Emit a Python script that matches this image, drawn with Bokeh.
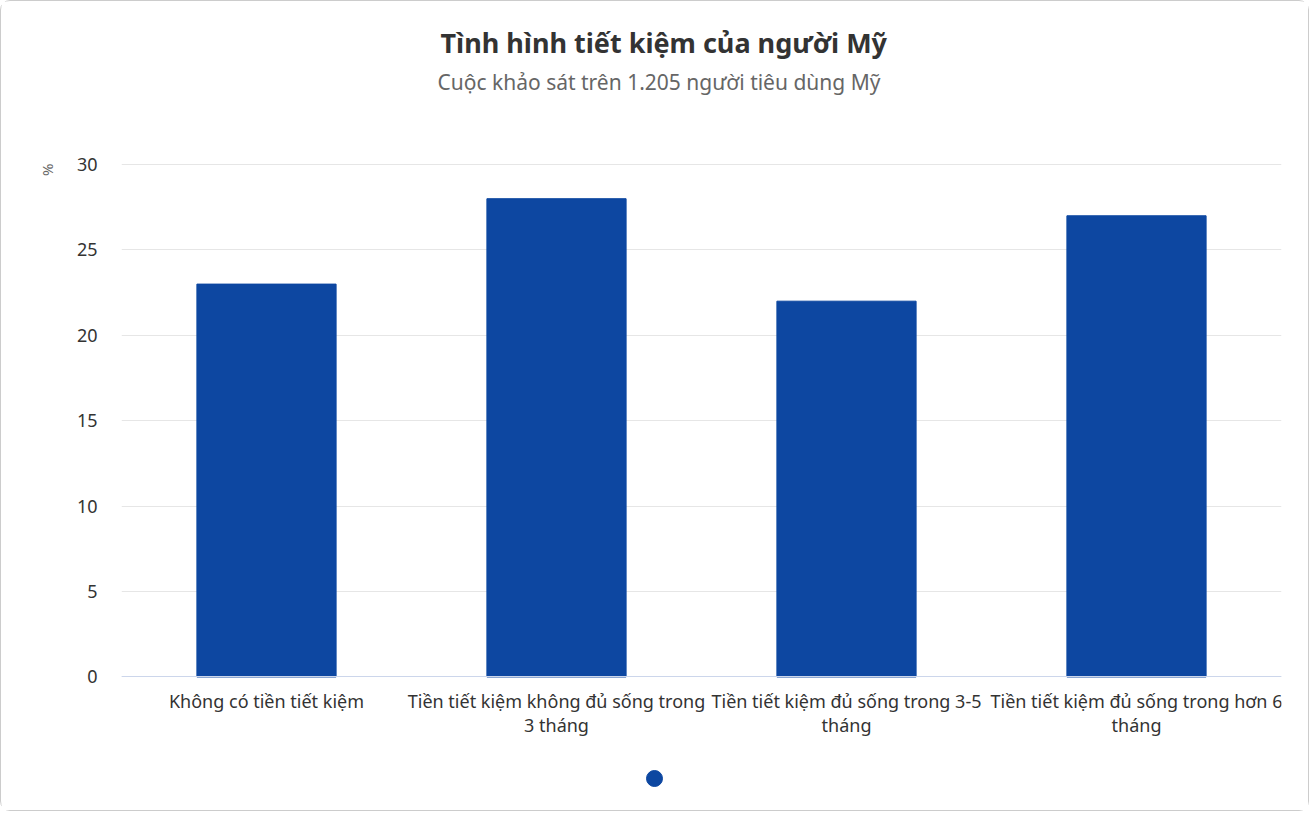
from bokeh.embed import file_html
from bokeh.resources import INLINE
from bokeh.plotting import figure
from bokeh.models import (ColumnDataSource, Range1d, FixedTicker, Title,
                          Legend, LegendItem)

categories = ["Không có tiền tiết kiệm",
              "Tiền tiết kiệm không đủ sống trong\n3 tháng",
              "Tiền tiết kiệm đủ sống trong 3-5\ntháng",
              "Tiền tiết kiệm đủ sống trong hơn 6\ntháng"]
values = [23, 28, 22, 27]
y_ticks = [0, 5, 10, 15, 20, 25, 30]
title = "Tình hình tiết kiệm của người Mỹ"
subtitle = "Cuộc khảo sát trên 1.205 người tiêu dùng Mỹ"

FONT = "Noto Sans"
BAR = "#0d47a1"

# the frame runs down to the bottom so the axis labels and the legend dot
# can sit inside it; the x axis is pinned at 0
p = figure(x_range=categories, y_range=Range1d(-7.70, 30.06),
           width=1309, height=811, output_backend="svg",
           toolbar_location=None,
           min_border_left=120, min_border_right=29,
           min_border_top=162, min_border_bottom=4)
p.styles = {"border": "1px solid #cccccc", "border-radius": "10px"}

src = ColumnDataSource(data={"cat": categories, "val": values})
p.vbar(x="cat", top="val", width=0.48, source=src, color=BAR)

# hidden marker renderer, only used to draw the legend dot
dot = p.scatter(x="cat", y="val", source=src, size=16, color=BAR,
                visible=False)
legend = Legend(items=[LegendItem(label=" ", renderers=[dot])],
                location=(513, 10), orientation="horizontal",
                border_line_color=None, background_fill_alpha=0,
                inactive_fill_alpha=0, glyph_width=40, glyph_height=40,
                label_width=0, label_standoff=0, padding=0, margin=0)
p.add_layout(legend)

# above panels: the first one added is the closest to the plot
p.add_layout(Title(text=" ", text_font_size="10px", standoff=51), "above")
p.add_layout(Title(text=subtitle, align="left", offset=316,
                   text_font=FONT, text_font_size="21px",
                   text_font_style="normal", text_color="#666666",
                   standoff=7), "above")
p.add_layout(Title(text=title, align="left", offset=319,
                   text_font=FONT, text_font_size="27px",
                   text_font_style="bold", text_color="#333333",
                   standoff=3), "above")

p.xaxis.fixed_location = 0
p.xaxis.major_label_text_font = FONT
p.xaxis.major_label_text_font_size = "18px"
p.xaxis.major_label_text_color = "#333333"
p.xaxis.major_label_text_line_height = 1.0
p.xaxis.major_label_standoff = 6
p.xaxis.axis_line_color = "#ccd6eb"
p.xaxis.major_tick_line_color = None
p.xaxis.minor_tick_line_color = None

p.yaxis.ticker = FixedTicker(ticks=y_ticks)
p.yaxis.major_label_text_font = FONT
p.yaxis.major_label_text_font_size = "18px"
p.yaxis.major_label_text_color = "#333333"
p.yaxis.major_label_standoff = 18
p.yaxis.axis_line_color = None
p.yaxis.major_tick_line_color = None
p.yaxis.minor_tick_line_color = None

# "%" unit label at the top end of the value axis
p.add_layout(Title(text="%", align="right", text_font=FONT,
                   text_font_size="15px", text_font_style="normal",
                   text_color="#666666", standoff=33), "left")

p.xgrid.grid_line_color = None
p.ygrid.grid_line_color = "#e6e6e6"
p.outline_line_color = None

open("out.html", "w").write(file_html(p, INLINE))
